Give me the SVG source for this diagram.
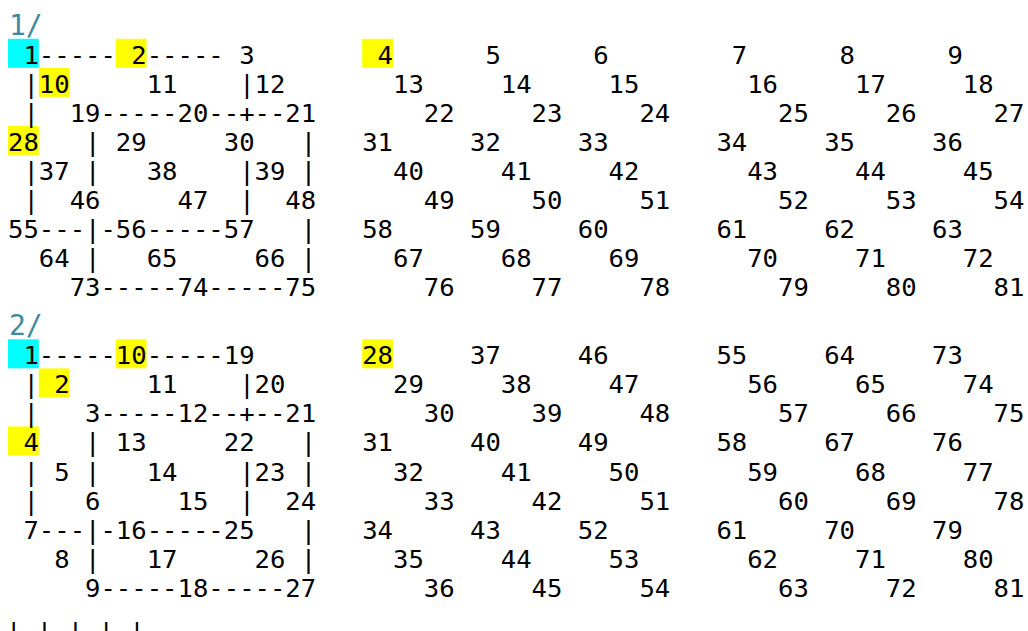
<svg xmlns="http://www.w3.org/2000/svg" width="1028" height="631" viewBox="0 0 1028 631">
<style>
.t{font-family:"DejaVu Sans Mono","Liberation Mono",monospace;font-size:25.6px;fill:#000;white-space:pre}
.h{fill:#3d8ba1;font-size:28px}
.cy{fill:#00ffff}
.ye{fill:#ffff00}
</style>
<rect width="1028" height="631" fill="#fff"/>
<g id="highlights">
<rect class="cy" x="8" y="38.8" width="30.8" height="29"/>
<rect class="ye" x="115.8" y="38.8" width="30.8" height="29"/>
<rect class="ye" x="38.8" y="67.9" width="30.8" height="29"/>
<rect class="ye" x="8" y="125.9" width="30.8" height="29"/>
<rect class="ye" x="362.2" y="38.8" width="30.8" height="29"/>
<rect class="cy" x="8" y="339.3" width="30.8" height="29"/>
<rect class="ye" x="115.8" y="339.3" width="30.8" height="29"/>
<rect class="ye" x="38.8" y="368.4" width="30.8" height="29"/>
<rect class="ye" x="8" y="426.4" width="30.8" height="29"/>
<rect class="ye" x="362.2" y="339.3" width="30.8" height="29"/>
</g>
<g id="section1">
<text class="t h" x="9" y="34.5">1/</text>
<g id="s1-grid">
<text class="t" x="8" y="63.8" xml:space="preserve"> 1----- 2----- 3</text>
<text class="t" x="8" y="92.85" xml:space="preserve"> |10     11    |12</text>
<text class="t" x="8" y="121.9" xml:space="preserve"> |  19-----20--+--21</text>
<text class="t" x="8" y="150.95" xml:space="preserve">28   | 29     30   |</text>
<text class="t" x="8" y="180" xml:space="preserve"> |37 |   38    |39 |</text>
<text class="t" x="8" y="209.05" xml:space="preserve"> |  46     47  |  48</text>
<text class="t" x="8" y="238.1" xml:space="preserve">55---|-56-----57   |</text>
<text class="t" x="8" y="267.15" xml:space="preserve">  64 |   65     66 |</text>
<text class="t" x="8" y="296.2" xml:space="preserve">    73-----74-----75</text>
</g>
<g id="s1-rest">
<text class="t" y="63.8"><tspan x="377.6">4</tspan><tspan x="485.4">5</tspan><tspan x="593.2">6</tspan><tspan x="731.8">7</tspan><tspan x="839.6">8</tspan><tspan x="947.4">9</tspan></text>
<text class="t" y="92.85"><tspan x="393">13</tspan><tspan x="500.8">14</tspan><tspan x="608.6">15</tspan><tspan x="747.2">16</tspan><tspan x="855">17</tspan><tspan x="962.8">18</tspan></text>
<text class="t" y="121.9"><tspan x="423.8">22</tspan><tspan x="531.6">23</tspan><tspan x="639.4">24</tspan><tspan x="778">25</tspan><tspan x="885.8">26</tspan><tspan x="993.6">27</tspan></text>
<text class="t" y="150.95"><tspan x="362.2">31</tspan><tspan x="470">32</tspan><tspan x="577.8">33</tspan><tspan x="716.4">34</tspan><tspan x="824.2">35</tspan><tspan x="932">36</tspan></text>
<text class="t" y="180"><tspan x="393">40</tspan><tspan x="500.8">41</tspan><tspan x="608.6">42</tspan><tspan x="747.2">43</tspan><tspan x="855">44</tspan><tspan x="962.8">45</tspan></text>
<text class="t" y="209.05"><tspan x="423.8">49</tspan><tspan x="531.6">50</tspan><tspan x="639.4">51</tspan><tspan x="778">52</tspan><tspan x="885.8">53</tspan><tspan x="993.6">54</tspan></text>
<text class="t" y="238.1"><tspan x="362.2">58</tspan><tspan x="470">59</tspan><tspan x="577.8">60</tspan><tspan x="716.4">61</tspan><tspan x="824.2">62</tspan><tspan x="932">63</tspan></text>
<text class="t" y="267.15"><tspan x="393">67</tspan><tspan x="500.8">68</tspan><tspan x="608.6">69</tspan><tspan x="747.2">70</tspan><tspan x="855">71</tspan><tspan x="962.8">72</tspan></text>
<text class="t" y="296.2"><tspan x="423.8">76</tspan><tspan x="531.6">77</tspan><tspan x="639.4">78</tspan><tspan x="778">79</tspan><tspan x="885.8">80</tspan><tspan x="993.6">81</tspan></text>
</g>
</g>
<g id="section2">
<text class="t h" x="9" y="335">2/</text>
<g id="s2-grid">
<text class="t" x="8" y="364.3" xml:space="preserve"> 1-----10-----19</text>
<text class="t" x="8" y="393.35" xml:space="preserve"> | 2     11    |20</text>
<text class="t" x="8" y="422.4" xml:space="preserve"> |   3-----12--+--21</text>
<text class="t" x="8" y="451.45" xml:space="preserve"> 4   | 13     22   |</text>
<text class="t" x="8" y="480.5" xml:space="preserve"> | 5 |   14    |23 |</text>
<text class="t" x="8" y="509.55" xml:space="preserve"> |   6     15  |  24</text>
<text class="t" x="8" y="538.6" xml:space="preserve"> 7---|-16-----25   |</text>
<text class="t" x="8" y="567.65" xml:space="preserve">   8 |   17     26 |</text>
<text class="t" x="8" y="596.7" xml:space="preserve">     9-----18-----27</text>
</g>
<g id="s2-rest">
<text class="t" y="364.3"><tspan x="362.2">28</tspan><tspan x="470">37</tspan><tspan x="577.8">46</tspan><tspan x="716.4">55</tspan><tspan x="824.2">64</tspan><tspan x="932">73</tspan></text>
<text class="t" y="393.35"><tspan x="393">29</tspan><tspan x="500.8">38</tspan><tspan x="608.6">47</tspan><tspan x="747.2">56</tspan><tspan x="855">65</tspan><tspan x="962.8">74</tspan></text>
<text class="t" y="422.4"><tspan x="423.8">30</tspan><tspan x="531.6">39</tspan><tspan x="639.4">48</tspan><tspan x="778">57</tspan><tspan x="885.8">66</tspan><tspan x="993.6">75</tspan></text>
<text class="t" y="451.45"><tspan x="362.2">31</tspan><tspan x="470">40</tspan><tspan x="577.8">49</tspan><tspan x="716.4">58</tspan><tspan x="824.2">67</tspan><tspan x="932">76</tspan></text>
<text class="t" y="480.5"><tspan x="393">32</tspan><tspan x="500.8">41</tspan><tspan x="608.6">50</tspan><tspan x="747.2">59</tspan><tspan x="855">68</tspan><tspan x="962.8">77</tspan></text>
<text class="t" y="509.55"><tspan x="423.8">33</tspan><tspan x="531.6">42</tspan><tspan x="639.4">51</tspan><tspan x="778">60</tspan><tspan x="885.8">69</tspan><tspan x="993.6">78</tspan></text>
<text class="t" y="538.6"><tspan x="362.2">34</tspan><tspan x="470">43</tspan><tspan x="577.8">52</tspan><tspan x="716.4">61</tspan><tspan x="824.2">70</tspan><tspan x="932">79</tspan></text>
<text class="t" y="567.65"><tspan x="393">35</tspan><tspan x="500.8">44</tspan><tspan x="608.6">53</tspan><tspan x="747.2">62</tspan><tspan x="855">71</tspan><tspan x="962.8">80</tspan></text>
<text class="t" y="596.7"><tspan x="423.8">36</tspan><tspan x="531.6">45</tspan><tspan x="639.4">54</tspan><tspan x="778">63</tspan><tspan x="885.8">72</tspan><tspan x="993.6">81</tspan></text>
</g>
</g>
<g id="more">
<text class="t" x="6" y="641" xml:space="preserve">| | | | |</text>
</g>
</svg>
